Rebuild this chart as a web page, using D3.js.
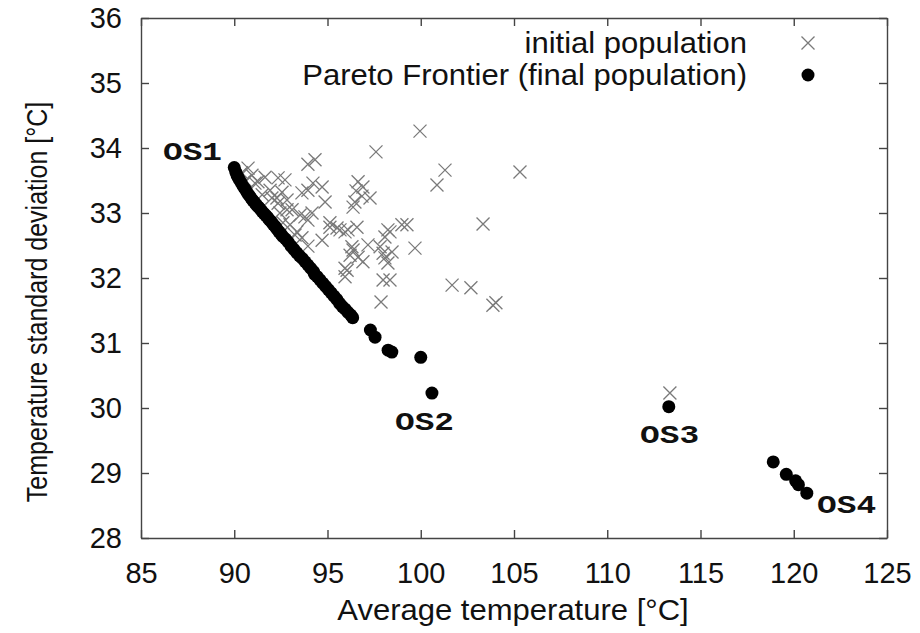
<!DOCTYPE html>
<html>
<head>
<meta charset="utf-8">
<script src="https://cdn.jsdelivr.net/npm/d3@7"></script>
<style>
  body { margin: 0; background: #fff; }
  text { font-family: "Liberation Sans", Arial, sans-serif; fill: #111; }
</style>
</head>
<body>
<div id="chart_box"></div>
<script>
// initial population (crosses): [avg temperature, std deviation]
var initialX = [99.96, 97.60, 101.30, 100.87, 105.32, 103.34, 101.68, 102.69, 103.87, 104.03,
    99.69, 96.64, 96.90, 96.53, 97.28, 96.47, 96.85, 96.37, 96.58, 95.51,
    95.94, 98.24, 98.99, 99.26, 98.08, 98.35, 98.46, 98.08, 98.24, 98.35,
    97.98, 97.87, 96.31, 96.64, 95.94, 95.94, 97.17, 97.98, 95.13, 113.36,
    94.33, 93.95, 90.74, 91.65, 92.35, 92.72, 91.11, 94.22, 93.95, 94.71,
    91.92, 92.56, 94.87, 92.83, 92.35, 93.63, 93.10, 93.53, 93.95, 94.17,
    95.13, 93.63, 93.95, 94.71, 92.61, 95.67, 96.37, 97.82, 96.05, 93.26,
    92.83, 93.79, 96.10, 96.21, 96.90, 90.95, 91.27, 92.02, 92.45, 92.99,
    93.36, 92.29, 90.40, 91.50, 90.60];
var initialY = [34.26, 33.94, 33.66, 33.43, 33.63, 32.83, 31.89, 31.85, 31.58, 31.62,
    32.46, 33.48, 33.40, 33.34, 33.23, 33.17, 33.26, 33.09, 32.78, 32.77,
    32.71, 32.74, 32.82, 32.82, 32.63, 32.71, 32.40, 32.31, 32.23, 31.97,
    31.97, 31.63, 32.48, 32.32, 32.15, 32.02, 32.51, 32.38, 32.78, 30.23,
    33.82, 33.75, 33.69, 33.55, 33.54, 33.51, 33.46, 33.46, 33.35, 33.40,
    33.35, 33.32, 33.17, 33.20, 33.15, 33.31, 33.05, 32.97, 32.89, 33.00,
    32.85, 32.62, 32.49, 32.58, 32.85, 32.74, 32.43, 32.48, 32.12, 32.66,
    33.05, 32.94, 32.74, 32.35, 32.25, 33.58, 33.48, 33.23, 33.00, 32.82,
    32.71, 33.23, 33.62, 33.28, 33.50];

// Pareto frontier (final population)
var paretoX = [90.00, 90.08, 90.15, 90.22, 90.30, 90.40, 90.50, 90.60, 90.70, 90.80,
    90.90, 91.00, 91.10, 91.20, 91.30, 91.40, 91.50, 91.60, 91.70, 91.80,
    91.90, 92.00, 92.10, 92.20, 92.30, 92.40, 92.50, 92.60, 92.75, 92.90,
    93.05, 93.20, 93.35, 93.50, 93.65, 93.80, 93.95, 94.10, 94.25, 94.30,
    94.45, 94.60, 94.75, 94.90, 95.05, 95.20, 95.35, 95.50, 95.65, 95.80,
    95.95, 96.10, 96.25, 96.35, 97.30, 97.55, 98.25, 98.45, 100.0, 100.6,
    113.3, 118.9, 119.6, 120.1, 120.25, 120.7];
var paretoY = [33.70, 33.63, 33.58, 33.54, 33.50, 33.45, 33.40, 33.36, 33.31, 33.27,
    33.23, 33.19, 33.16, 33.12, 33.09, 33.06, 33.02, 32.99, 32.96, 32.93,
    32.89, 32.86, 32.82, 32.79, 32.75, 32.71, 32.68, 32.64, 32.60, 32.55,
    32.49, 32.44, 32.39, 32.34, 32.30, 32.25, 32.20, 32.15, 32.10, 32.06,
    32.02, 31.97, 31.92, 31.87, 31.82, 31.77, 31.72, 31.67, 31.61, 31.56,
    31.52, 31.47, 31.43, 31.39, 31.20, 31.09, 30.89, 30.86, 30.78, 30.23,
    30.02, 29.17, 28.98, 28.88, 28.82, 28.69];

// labelled optimal solutions (text anchor in data units)
var osNames = ["OS1", "OS2", "OS3", "OS4"];
var osX = [86.18, 98.62, 111.76, 121.25];
var osY = [33.82, 29.66, 29.46, 28.38];

var xTicks = [85, 90, 95, 100, 105, 110, 115, 120, 125];
var yTicks = [28, 29, 30, 31, 32, 33, 34, 35, 36];
var legendNames = ["initial population", "Pareto Frontier (final population)"];

var width = 920, height = 633;
var frame = { left: 141, right: 887, top: 18, bottom: 538 };
var axis_color = "#444";
var font_size = "29px";
// the source picture is a little wider than tall, so horizontal text runs wider
var stretch = 1.07;

var svg = d3.select("#chart_box").append("svg")
    .attr("width", width)
    .attr("height", height)
    .style("background-color", "#fff");

var x = d3.scaleLinear().domain([85, 125]).range([frame.left, frame.right]);
var y = d3.scaleLinear().domain([28, 36]).range([frame.bottom, frame.top]);

// axes: gnuplot style, ticks pointing inward on all four sides
function styleAxis(g) {
    g.selectAll("path, line").attr("stroke", axis_color).attr("stroke-width", 1.4);
    g.selectAll("text").style("font-size", font_size).attr("fill", "#111")
        .style("font-family", "'Liberation Sans', Arial, sans-serif");
}

svg.append("g")
    .attr("transform", "translate(0," + frame.bottom + ")")
    .call(d3.axisBottom(x).tickValues(xTicks).tickSize(-8).tickSizeOuter(0).tickPadding(24))
    .call(styleAxis);

svg.append("g")
    .attr("transform", "translate(0," + frame.top + ")")
    .call(d3.axisTop(x).tickValues(xTicks).tickSize(-8).tickSizeOuter(0).tickFormat(""))
    .call(styleAxis);

svg.append("g")
    .attr("transform", "translate(" + frame.left + ",0)")
    .call(d3.axisLeft(y).tickValues(yTicks).tickSize(-8).tickSizeOuter(0).tickPadding(19))
    .call(styleAxis);

svg.append("g")
    .attr("transform", "translate(" + frame.right + ",0)")
    .call(d3.axisRight(y).tickValues(yTicks).tickSize(-8).tickSizeOuter(0).tickFormat(""))
    .call(styleAxis);

// axis titles
svg.append("text")
    .attr("transform", "translate(" + ((frame.left + frame.right) / 2 - 1) + ",620) scale(" + stretch + ",1)")
    .attr("text-anchor", "middle")
    .style("font-size", font_size)
    .text("Average temperature [°C]");

svg.append("text")
    .attr("transform", "translate(47,302) scale(1.15,1) rotate(-90)")
    .attr("text-anchor", "middle")
    .style("font-size", "25px")
    .text("Temperature standard deviation [°C]");

var crossPath = "M-6.5,-6.5L6.5,6.5M-6.5,6.5L6.5,-6.5";

// initial population
var initial = initialX.map(function (d, i) { return [d, initialY[i]]; });
svg.append("g").selectAll("path")
    .data(initial)
    .enter().append("path")
    .attr("d", crossPath)
    .attr("transform", function (d) { return "translate(" + x(d[0]) + "," + y(d[1]) + ")"; })
    .attr("stroke", "#7a7a7a")
    .attr("stroke-width", 1.3)
    .attr("fill", "none");

// pareto frontier
var pareto = paretoX.map(function (d, i) { return [d, paretoY[i]]; });
svg.append("g").selectAll("circle")
    .data(pareto)
    .enter().append("circle")
    .attr("cx", function (d) { return x(d[0]); })
    .attr("cy", function (d) { return y(d[1]); })
    .attr("r", 6.5)
    .attr("fill", "#000");

// OS labels
svg.append("g").selectAll("text")
    .data(osNames)
    .enter().append("text")
    .attr("x", function (d, i) { return x(osX[i]); })
    .attr("y", function (d, i) { return y(osY[i]); })
    .attr("textLength", 59)
    .attr("lengthAdjust", "spacingAndGlyphs")
    .style("font-family", "'Liberation Mono', 'DejaVu Sans Mono', monospace")
    .style("font-weight", "bold")
    .style("font-size", "26px")
    .text(function (d) { return d; });

// legend
var legend = svg.append("g");
legend.selectAll("text")
    .data(legendNames)
    .enter().append("text")
    .attr("transform", function (d, i) {
        return "translate(747," + (43 + i * 32) + ") scale(" + stretch + ",1)";
    })
    .attr("dy", "0.35em")
    .attr("text-anchor", "end")
    .style("font-size", font_size)
    .text(function (d) { return d; });

legend.append("path")
    .attr("d", crossPath)
    .attr("transform", "translate(808,43)")
    .attr("stroke", "#7a7a7a")
    .attr("stroke-width", 1.3)
    .attr("fill", "none");

legend.append("circle")
    .attr("cx", 808)
    .attr("cy", 75)
    .attr("r", 6.5)
    .attr("fill", "#000");
</script>
</body>
</html>
